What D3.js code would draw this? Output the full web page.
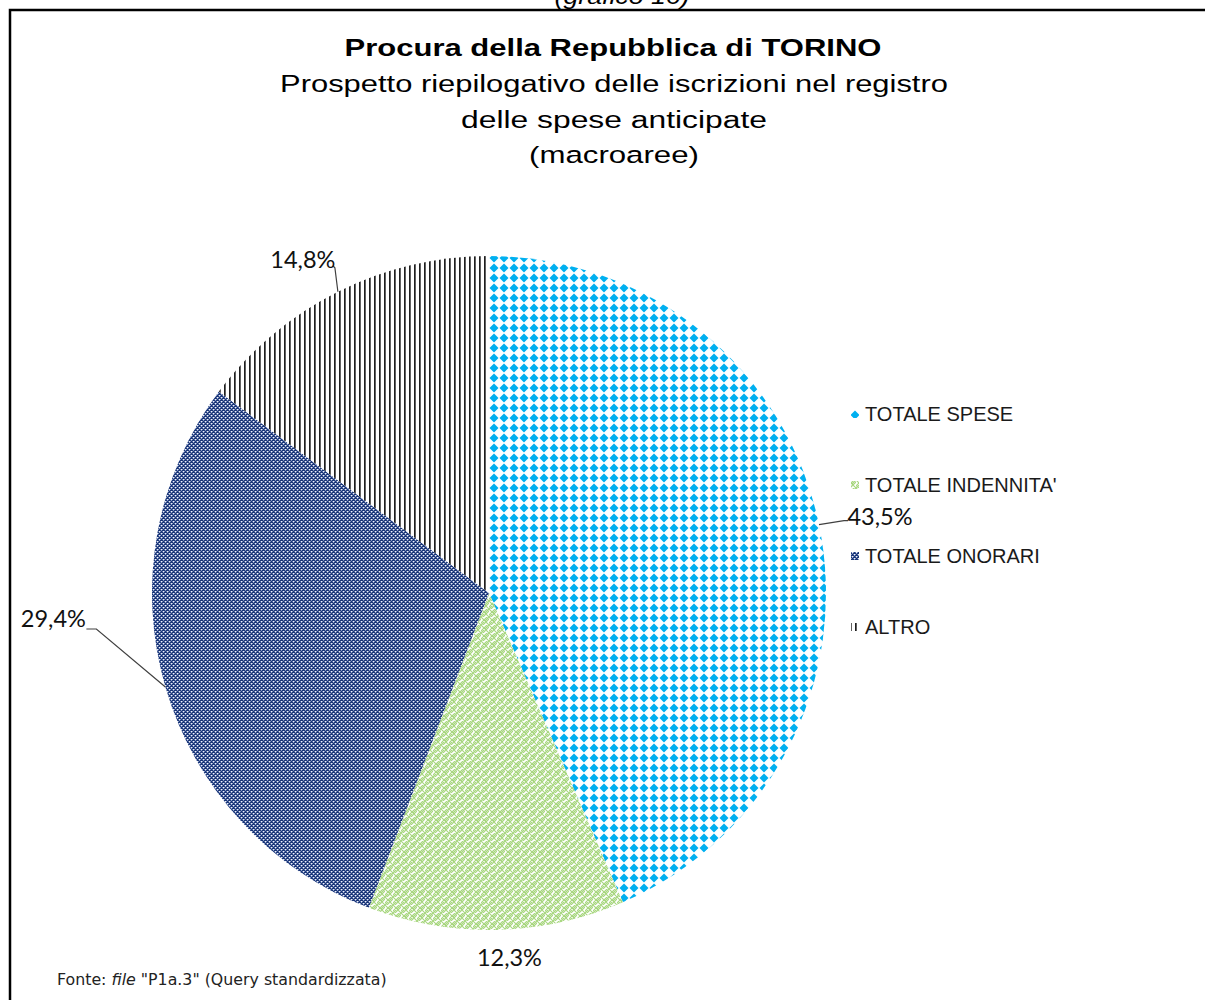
<!DOCTYPE html>
<html><head><meta charset="utf-8">
<script src="https://cdn.jsdelivr.net/npm/d3@7"></script>
<style>html,body{margin:0;padding:0;background:#fff;}svg{display:block;}</style>
</head><body>
<script>
const categories = ["TOTALE SPESE", "TOTALE INDENNITA'", "TOTALE ONORARI", "ALTRO"];
const values = [43.5, 12.3, 29.4, 14.8];
const valueLabels = ["43,5%", "12,3%", "29,4%", "14,8%"];
const titleMain = "Procura della Repubblica di TORINO";
const titleLines = ["Prospetto riepilogativo delle iscrizioni nel registro", "delle spese anticipate", "(macroaree)"];

const W = 1205, H = 1000;
const svg = d3.select("body").append("svg").attr("width", W).attr("height", H);
const defs = svg.append("defs");

// patterns
const p0 = defs.append("pattern").attr("id","pat0").attr("patternUnits","userSpaceOnUse").attr("width",10).attr("height",10);
p0.append("rect").attr("width",10).attr("height",10).attr("fill","#fff");
p0.append("path").attr("d","M5,0.5L9.5,5L5,9.5L0.5,5Z").attr("fill","#00b0f0");

const p1 = defs.append("pattern").attr("id","pat1").attr("patternUnits","userSpaceOnUse").attr("width",8).attr("height",8);
p1.append("rect").attr("width",8).attr("height",8).attr("fill","#fff");
p1.append("path").attr("d","M-1,-1L9,9M7,-1L-1,7M9,7L7,9M-1,9L9,-1M1,9L9,1").attr("stroke","#a6d67c").attr("stroke-width",1.1).attr("fill","none");

const p2 = defs.append("pattern").attr("id","pat2").attr("patternUnits","userSpaceOnUse").attr("width",4).attr("height",4);
p2.append("rect").attr("width",4).attr("height",4).attr("fill","#1a3678");
[[0,0,"#f0f3fa"],[2,2,"#f0f3fa"],[1,0,"#8294c0"],[3,2,"#8294c0"],[0,1,"#8294c0"],[2,3,"#8294c0"],[3,0,"#5a70a8"],[1,2,"#5a70a8"]]
  .forEach(([x,y,c])=>p2.append("rect").attr("x",x).attr("y",y).attr("width",1).attr("height",1).attr("fill",c));

const p3 = defs.append("pattern").attr("id","pat3").attr("patternUnits","userSpaceOnUse").attr("width",5).attr("height",5);
p3.append("rect").attr("width",5).attr("height",5).attr("fill","#fff");
p3.append("rect").attr("x",0).attr("width",1.7).attr("height",5).attr("fill","#1e1e1e");

const fills = ["url(#pat0)","url(#pat1)","url(#pat2)","url(#pat3)"];

// frame
svg.append("rect").attr("x",10).attr("y",10).attr("width",W).attr("height",H).attr("fill","none").attr("stroke","#000").attr("stroke-width",2.5);

// horizontally stretched centred text helper
function stretched(txt, cxp, y, size, target, weight, style) {
  const t = svg.append("text").attr("x",0).attr("y",0).attr("text-anchor","middle")
    .attr("font-family","Liberation Sans, Arial, sans-serif").attr("font-size",size)
    .attr("font-weight",weight||"normal").attr("font-style",style||"normal").attr("fill","#000").text(txt);
  const natural = t.node().getComputedTextLength();
  const k = target / natural;
  t.attr("transform",`translate(${cxp},${y}) scale(${k},1)`);
  return t;
}

stretched("(grafico 16)", 622, 4, 22, 135, "normal", "italic");
stretched(titleMain, 613, 56, 23.5, 537, "bold");
const titleW = [668, 306, 170];
titleLines.forEach((t,i)=> stretched(t, 614, 92+i*35.5, 23.5, titleW[i]));

// pie
const cx = 489, cy = 593, R = 337;
const pie = d3.pie().sort(null).value(d=>d)(values);
const arc = d3.arc().innerRadius(0).outerRadius(R);
const g = svg.append("g").attr("transform",`translate(${cx},${cy})`);
g.selectAll("path.slice").data(pie).enter().append("path").attr("class","slice")
  .attr("d",arc).attr("fill",(d,i)=>fills[i]);

// labels
const labelDx = [61, 13, -112, -35];
const labelDy = [-8, 28, -68, -32];
const lblFont = "Lato, 'Open Sans', sans-serif";
pie.forEach((d,i)=>{
  const a = (d.startAngle+d.endAngle)/2;
  const ex = Math.sin(a)*R, ey = -Math.cos(a)*R;
  const lx = ex + labelDx[i], ly = ey + labelDy[i];
  svg.append("text").attr("x",cx+lx).attr("y",cy+ly+8).attr("text-anchor","middle")
    .attr("font-family",lblFont).attr("font-size",23.5).attr("fill","#111").text(valueLabels[i]);
  let pts = null;
  if (i===0) pts = [[ex,ey],[lx-36,ly+4],[lx-32,ly+4]];
  if (i===2) pts = [[ex,ey],[lx+43,ly+10],[lx+33,ly+10]];
  if (i===3) pts = [[ex,ey],[lx+32,ly+8],[lx+30,ly+6]];
  if (pts) g.append("path").attr("d",d3.line()(pts)).attr("fill","none").attr("stroke","#404040").attr("stroke-width",1.2);
});

// legend
const leg = svg.append("g");
categories.forEach((c,i)=>{
  const y = 414 + i*71;
  leg.append("rect").attr("x",851).attr("y",y-4).attr("width",8).attr("height",8).attr("fill",fills[i]);
  leg.append("text").attr("x",865).attr("y",y+7).attr("font-family","Liberation Sans, Arial, sans-serif")
    .attr("font-size",20).attr("fill","#1a1a1a").text(c);
});

// footer
const ft = svg.append("text").attr("x",57).attr("y",985).attr("font-family","DejaVu Sans, Verdana, sans-serif").attr("font-size",15.8).attr("fill","#222");
ft.append("tspan").text("Fonte: ");
ft.append("tspan").attr("font-style","italic").text("file");
ft.append("tspan").text(" \"P1a.3\" (Query standardizzata)");
</script>
</body></html>
